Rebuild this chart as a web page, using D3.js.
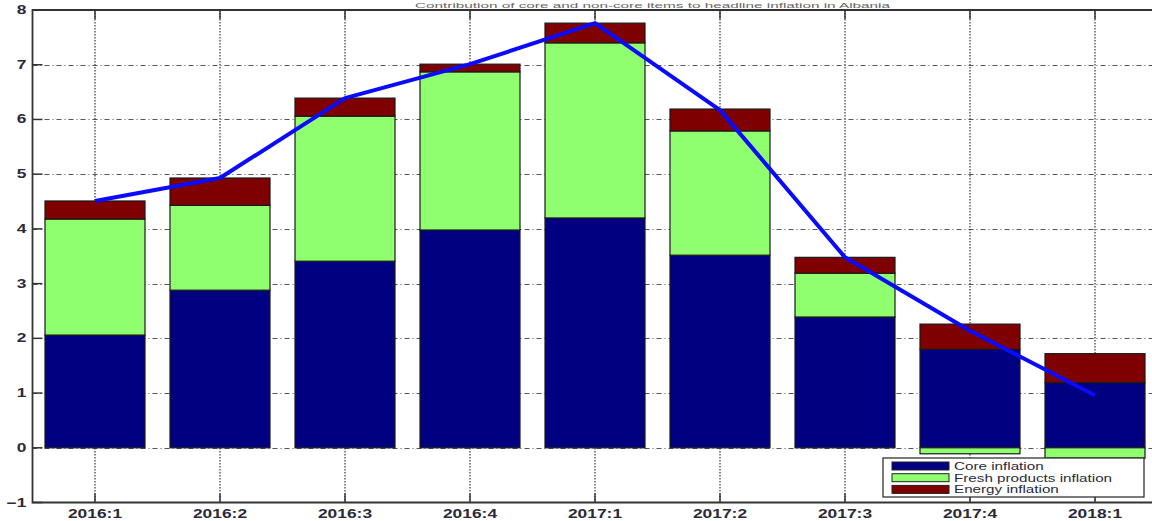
<!DOCTYPE html>
<html>
<head>
<meta charset="utf-8">
<script src="https://cdn.jsdelivr.net/npm/d3@7"></script>
<style>
  html, body { margin: 0; padding: 0; background: #fff; }
  svg { display: block; }
  text { font-family: "Liberation Sans", Arial, sans-serif; fill: #222; }
</style>
</head>
<body>
<svg id="chart" width="1152" height="521"></svg>
<script>
// Quarters shown on the x axis
const quarters = ["2016:1", "2016:2", "2016:3", "2016:4", "2017:1", "2017:2", "2017:3", "2017:4", "2018:1"];

// Contributions to headline inflation (percentage points)
const coreInflation   = [2.06, 2.88, 3.41, 3.98, 4.20, 3.52, 2.39, 1.80, 1.19];
const freshInflation  = [2.12, 1.55, 2.65, 2.89, 3.20, 2.27, 0.80, -0.11, -0.19];
const energyInflation = [0.33, 0.50, 0.33, 0.14, 0.36, 0.40, 0.29, 0.46, 0.53];

// Headline inflation (line)
const headline = [4.51, 4.93, 6.39, 7.01, 7.76, 6.17, 3.48, 2.14, 0.96];

const yTicks = [-1, 0, 1, 2, 3, 4, 5, 6, 7, 8];
const seriesNames = ["Core inflation", "Fresh products inflation", "Energy inflation"];
const seriesColors = ["#000080", "#8fff6f", "#7f0000"];
const chartTitle = "Contribution of core and non-core items to headline inflation in Albania";

const svg = d3.select("#chart");
const plotLeft = 32.5, plotTop = 10, plotBottom = 502.5, plotRight = 1157.5;
const stretch = 1.45; // horizontal text stretch

const x = d3.scaleBand().domain(quarters).range([plotLeft, plotRight]).paddingInner(0.2).paddingOuter(0.1);
const y = d3.scaleLinear().domain([-1, 8]).range([plotBottom, plotTop]);
const cx = d => x(d) + x.bandwidth() / 2;

// Title, in the thin strip above the axes
svg.append("text")
  .attr("x", 415).attr("y", 7.5)
  .attr("font-size", 8)
  .attr("textLength", 475)
  .attr("lengthAdjust", "spacingAndGlyphs")
  .style("fill", "#666")
  .text(chartTitle);

// Grid lines
const grid = svg.append("g");
grid.selectAll("line.h").data(yTicks.filter(d => d > -1 && d < 8)).join("line")
  .attr("x1", plotLeft).attr("x2", plotRight)
  .attr("y1", d => Math.round(y(d)) + 0.5).attr("y2", d => Math.round(y(d)) + 0.5)
  .attr("stroke", "#555").attr("stroke-width", 1)
  .attr("stroke-dasharray", "5,3,1,3");
grid.selectAll("line.v").data(quarters).join("line")
  .attr("x1", cx).attr("x2", cx)
  .attr("y1", plotTop).attr("y2", plotBottom)
  .attr("stroke", "#444").attr("stroke-width", 1.3)
  .attr("stroke-dasharray", "1.5,1.5");

// Stacked bars
const rows = quarters.map((q, i) => ({
  quarter: q, core: coreInflation[i], fresh: freshInflation[i], energy: energyInflation[i]
}));
const stack = d3.stack().keys(["core", "fresh", "energy"]).offset(d3.stackOffsetDiverging);
const layers = stack(rows);

svg.append("g").selectAll("g").data(layers).join("g")
  .attr("fill", (d, i) => seriesColors[i])
  .selectAll("rect").data(d => d).join("rect")
  .attr("x", d => x(d.data.quarter))
  .attr("width", x.bandwidth())
  .attr("y", d => y(Math.max(d[0], d[1])))
  .attr("height", d => Math.abs(y(d[0]) - y(d[1])))
  .attr("stroke", "#1a1a1a").attr("stroke-width", 1.2);

// Headline line
svg.append("path")
  .datum(headline)
  .attr("fill", "none")
  .attr("stroke", "#0a0aff")
  .attr("stroke-width", 4)
  .attr("stroke-linejoin", "round")
  .attr("d", d3.line().x((d, i) => cx(quarters[i])).y(d => y(d)));

// Axes frame
const axisColor = "#333";
svg.append("path")
  .attr("d", `M${plotRight},${plotTop}H${plotLeft}V${plotBottom}H${plotRight}`)
  .attr("fill", "none").attr("stroke", axisColor).attr("stroke-width", 1.8);

// Y ticks and labels
const yAxis = svg.append("g");
yAxis.selectAll("line").data(yTicks).join("line")
  .attr("x1", plotLeft).attr("x2", plotLeft + 10)
  .attr("y1", d => y(d)).attr("y2", d => y(d))
  .attr("stroke", axisColor).attr("stroke-width", 1.5);
yAxis.selectAll("text").data(yTicks).join("text")
  .attr("transform", d => `translate(${plotLeft - 6},${y(d) + 4}) scale(${stretch},1)`)
  .attr("text-anchor", "end")
  .attr("font-size", 12).attr("font-weight", "bold")
  .style("fill", "#2a2a3a")
  .text(d => d < 0 ? "\u2212" + Math.abs(d) : d);

// X ticks (top and bottom) and labels
const xAxis = svg.append("g");
xAxis.selectAll("line.b").data(quarters).join("line")
  .attr("x1", cx).attr("x2", cx)
  .attr("y1", plotBottom).attr("y2", plotBottom - 9)
  .attr("stroke", axisColor).attr("stroke-width", 1.5);
xAxis.selectAll("line.t").data(quarters).join("line")
  .attr("x1", cx).attr("x2", cx)
  .attr("y1", plotTop).attr("y2", plotTop + 9)
  .attr("stroke", axisColor).attr("stroke-width", 1.5);
xAxis.selectAll("text").data(quarters).join("text")
  .attr("transform", d => `translate(${cx(d)},${plotBottom + 15}) scale(${stretch},1)`)
  .attr("text-anchor", "middle")
  .attr("font-size", 12).attr("font-weight", "bold")
  .style("fill", "#2a2a3a")
  .text(d => d);

// Legend
const lg = svg.append("g").attr("transform", "translate(883,458)");
lg.append("rect").attr("width", 261).attr("height", 39)
  .attr("fill", "#fff").attr("stroke", "#222").attr("stroke-width", 1.2);
const items = lg.selectAll("g").data(seriesNames).join("g")
  .attr("transform", (d, i) => `translate(0,${4 + i * 11.7})`);
items.append("rect").attr("x", 9).attr("width", 57).attr("height", 8)
  .attr("fill", (d, i) => seriesColors[i]).attr("stroke", "#222").attr("stroke-width", 1);
items.append("text")
  .attr("transform", `translate(71,8) scale(${stretch},1)`)
  .attr("font-size", 10.5)
  .style("fill", "#2a2a3a")
  .text(d => d);
</script>
</body>
</html>
